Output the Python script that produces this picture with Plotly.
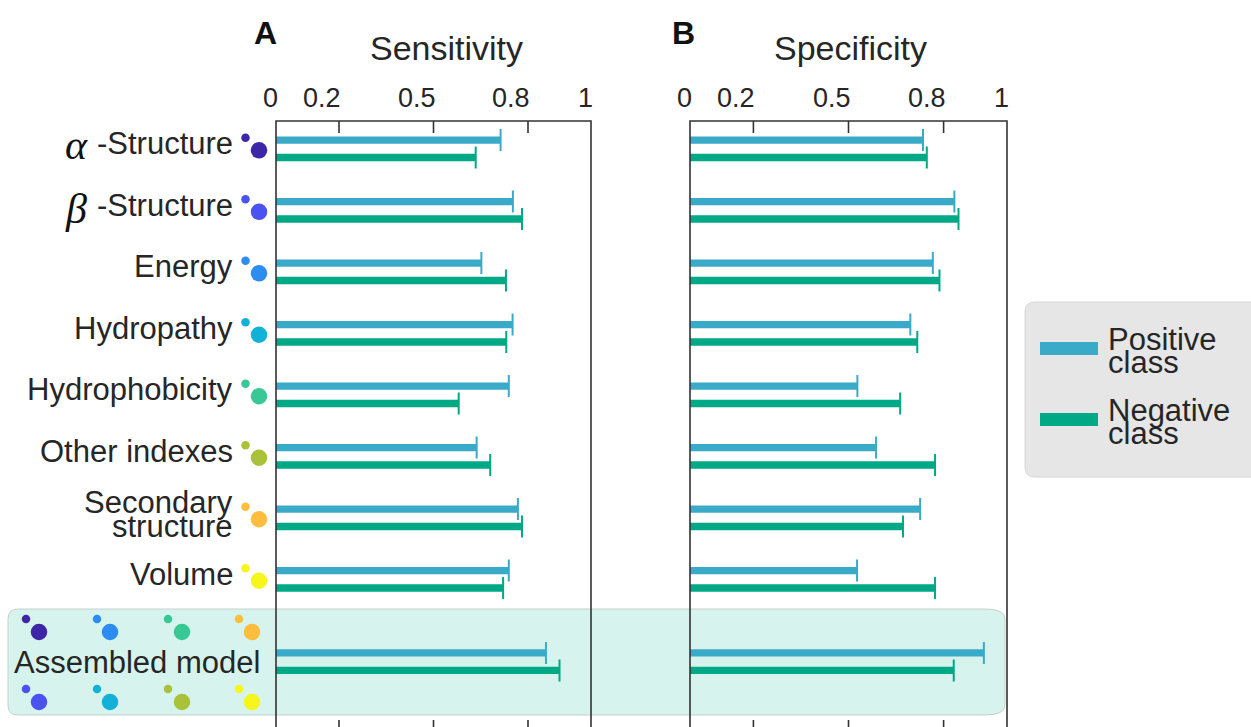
import plotly.graph_objects as go

# ---- data -------------------------------------------------------------
FEATURES = ["α -Structure", "β -Structure", "Energy", "Hydropathy",
            "Hydrophobicity", "Other indexes", "Secondary structure",
            "Volume", "Assembled model"]
SENS_POS = [0.713, 0.752, 0.652, 0.751, 0.739, 0.637, 0.768, 0.739, 0.857]
SENS_NEG = [0.634, 0.781, 0.730, 0.731, 0.580, 0.680, 0.781, 0.721, 0.900]
SPEC_POS = [0.735, 0.834, 0.766, 0.695, 0.528, 0.587, 0.726, 0.527, 0.927]
SPEC_NEG = [0.747, 0.847, 0.787, 0.717, 0.663, 0.773, 0.672, 0.773, 0.832]
TICK_VALS = [0, 0.2, 0.5, 0.8, 1]
TICK_TEXT = ["0", "0.2", "0.5", "0.8", "1"]
FEATURE_COLORS = ["#3e26a8", "#4a52f2", "#2d8cf0", "#12b2d8",
                  "#38c896", "#a9c23a", "#fdbe3d", "#f6f51c"]
CLASS_NAMES = ["Positive class", "Negative class"]
CLASS_COLORS = ["#3aaac9", "#00a985"]

# ---- geometry ---------------------------------------------------------
W, H, TOP = 1251, 727, 121
ROW_POS = list(range(8)) + [8.34]          # assembled row sits a bit lower
Y_TOP, Y_BOT = -0.452, 9.402                # y-axis range (reversed)
BAR_OFF, BAR_W = 0.142, 0.119
DOM_A = (276, 591)
DOM_B = (690, 1007)
FONT = "Liberation Sans, Arial, sans-serif"
TXT = "#262626"
FRAME = "#333333"


def px(x):
    return x / W


def py(y):
    return (H - y) / (H - TOP)


def row_px(v):
    return TOP + (v - Y_TOP) / (Y_BOT - Y_TOP) * (H - TOP)


fig = go.Figure()

panels = [("x", SENS_POS, SENS_NEG), ("x2", SPEC_POS, SPEC_NEG)]
for xa, pos_vals, neg_vals in panels:
    for name, vals, col, sgn in [(CLASS_NAMES[0], pos_vals, CLASS_COLORS[0], -1),
                                 (CLASS_NAMES[1], neg_vals, CLASS_COLORS[1], 1)]:
        fig.add_trace(go.Bar(
            x=vals, y=[p + sgn * BAR_OFF for p in ROW_POS], orientation="h",
            width=BAR_W, name=name, showlegend=False, xaxis=xa, yaxis="y",
            marker=dict(color=col, line=dict(width=0)),
            error_x=dict(type="data", array=[0] * len(vals), visible=True,
                         width=11, thickness=2, color=col),
            hoverinfo="x",
        ))

shapes = []
annotations = []

# assembled-model band (rounded ends)
bl, br, bt, bb = 8, 1005, 609, 715
band = (f"M {px(bl+10)},{py(bt)} L {px(br-20)},{py(bt)} "
        f"Q {px(br)},{py(bt)} {px(br)},{py(bt+10)} L {px(br)},{py(bb-10)} "
        f"Q {px(br)},{py(bb)} {px(br-20)},{py(bb)} L {px(bl+10)},{py(bb)} "
        f"Q {px(bl)},{py(bb)} {px(bl)},{py(bb-10)} L {px(bl)},{py(bt+10)} "
        f"Q {px(bl)},{py(bt)} {px(bl+10)},{py(bt)} Z")
shapes.append(dict(type="path", path=band, xref="paper", yref="paper",
                   fillcolor="#d7f3ed", line=dict(color="#c6cfcd", width=1),
                   layer="below"))

# panel frames, ticks, tick labels, titles
for xa, (l, r), title, tx, letter, lx in [("x", DOM_A, "Sensitivity", 446, "A", 265),
                                          ("x2", DOM_B, "Specificity", 850, "B", 683)]:
    shapes.append(dict(type="path", xref="paper", yref="paper",
                       path=f"M {px(l)},{py(735)} L {px(l)},{py(TOP)} "
                            f"L {px(r)},{py(TOP)} L {px(r)},{py(735)}",
                       line=dict(color=FRAME, width=1.6), layer="above"))
    for tv, tt in zip(TICK_VALS, TICK_TEXT):
        if 0 < tv < 1:
            shapes.append(dict(type="line", xref=xa, yref="paper", x0=tv, x1=tv,
                               y0=py(TOP), y1=py(TOP + 12),
                               line=dict(color=FRAME, width=1.6)))
            shapes.append(dict(type="line", xref=xa, yref="paper", x0=tv, x1=tv,
                               y0=py(720), y1=py(735),
                               line=dict(color=FRAME, width=1.6)))
        annotations.append(dict(text=tt, xref=xa, yref="paper", x=tv, y=py(98),
                                xanchor="right", yanchor="middle", xshift=4,
                                showarrow=False, font=dict(size=27, color=TXT, family=FONT)))
    annotations.append(dict(text=title, xref="paper", yref="paper", x=px(tx), y=py(48),
                            xanchor="center", yanchor="middle", showarrow=False,
                            font=dict(size=34, color=TXT, family=FONT)))
    annotations.append(dict(text=f"<b>{letter}</b>", xref="paper", yref="paper",
                            x=px(lx), y=py(33), xanchor="center", yanchor="middle",
                            showarrow=False, font=dict(size=32, color="#111", family=FONT)))

# row labels and colour dots
for i, feat in enumerate(FEATURES[:8]):
    yc = row_px(ROW_POS[i])
    if feat[0] in "αβ":
        greek, rest = feat.split(" ", 1)
        annotations.append(dict(text=rest, xref="paper", yref="paper", x=px(235), y=py(yc - 5),
                                xanchor="right", yanchor="middle", showarrow=False,
                                font=dict(size=31, color=TXT, family=FONT)))
        gy = yc - 4 if greek == "α" else yc - 1
        annotations.append(dict(text=greek, xref="paper", yref="paper", x=px(76), y=py(gy),
                                xanchor="center", yanchor="middle", showarrow=False,
                                font=dict(size=42, color="#111",
                                          family="Liberation Serif, serif", style="italic")))
    elif " " in feat and feat.startswith("Secondary"):
        for k, word in enumerate(feat.split(" ")):
            annotations.append(dict(text=word, xref="paper", yref="paper", x=px(235),
                                    y=py(yc - 15 + 24 * k), xanchor="right", yanchor="middle",
                                    showarrow=False, font=dict(size=31, color=TXT, family=FONT)))
    else:
        annotations.append(dict(text=feat, xref="paper", yref="paper", x=px(235), y=py(yc - 5),
                                xanchor="right", yanchor="middle", showarrow=False,
                                font=dict(size=31, color=TXT, family=FONT)))
    for cx, cy, d in [(245.5, yc - 11, 8.5), (259, yc + 1.5, 16.5)]:
        shapes.append(dict(type="circle", xref="paper", yref="paper",
                           x0=px(cx - d / 2), x1=px(cx + d / 2),
                           y0=py(cy + d / 2), y1=py(cy - d / 2),
                           fillcolor=FEATURE_COLORS[i], line=dict(width=0)))

# assembled model label with the eight feature colours
yc = row_px(ROW_POS[8])
annotations.append(dict(text=FEATURES[8], xref="paper", yref="paper", x=px(137), y=py(yc + 1),
                        xanchor="center", yanchor="middle", showarrow=False,
                        font=dict(size=31, color=TXT, family=FONT)))
pair_x = [(26, 39), (97, 110), (168, 182), (239, 252)]
for r, (sy, by) in enumerate([(619, 632), (689, 702)]):
    for k, (sx, bx) in enumerate(pair_x):
        col = FEATURE_COLORS[[0, 2, 4, 6][k] + r]
        for cx, cy, d in [(sx, sy, 8.5), (bx, by, 16.5)]:
            shapes.append(dict(type="circle", xref="paper", yref="paper",
                               x0=px(cx - d / 2), x1=px(cx + d / 2),
                               y0=py(cy + d / 2), y1=py(cy - d / 2),
                               fillcolor=col, line=dict(width=0)))

# legend box
ll, lr, lt, lb, rad = 1025, 1262, 302, 477, 10
legend_box = (f"M {px(ll+rad)},{py(lt)} L {px(lr)},{py(lt)} L {px(lr)},{py(lb)} "
              f"L {px(ll+rad)},{py(lb)} Q {px(ll)},{py(lb)} {px(ll)},{py(lb-rad)} "
              f"L {px(ll)},{py(lt+rad)} Q {px(ll)},{py(lt)} {px(ll+rad)},{py(lt)} Z")
shapes.append(dict(type="path", path=legend_box, xref="paper", yref="paper",
                   fillcolor="#e6e6e6", line=dict(color="#d6d6d6", width=1), layer="below"))
for k, (name, col) in enumerate(zip(CLASS_NAMES, CLASS_COLORS)):
    sy = 348.5 + 71 * k
    shapes.append(dict(type="rect", xref="paper", yref="paper",
                       x0=px(1040), x1=px(1098), y0=py(sy + 6.5), y1=py(sy - 6.5),
                       fillcolor=col, line=dict(width=0)))
    w1, w2 = name.split(" ")
    for j, word in enumerate([w1, w2]):
        annotations.append(dict(text=word, xref="paper", yref="paper", x=px(1106),
                                y=py(339 + 71 * k + 23 * j), xanchor="left", yanchor="middle",
                                showarrow=False, font=dict(size=31, color=TXT, family=FONT)))

axis_common = dict(range=[0, 1], showgrid=False, zeroline=False, showticklabels=False,
                   ticks="", showline=False, fixedrange=True)
fig.update_layout(
    width=W, height=H,
    margin=dict(l=0, r=0, t=TOP, b=0, autoexpand=False),
    paper_bgcolor="white", plot_bgcolor="rgba(0,0,0,0)",
    barmode="overlay", showlegend=False,
    xaxis=dict(domain=[px(DOM_A[0]), px(DOM_A[1])], anchor="y", **axis_common),
    xaxis2=dict(domain=[px(DOM_B[0]), px(DOM_B[1])], anchor="y", **axis_common),
    yaxis=dict(range=[Y_BOT, Y_TOP], domain=[0, 1], visible=False, fixedrange=True),
    shapes=shapes, annotations=annotations,
)

fig.write_html("out.html", config={"displayModeBar": False})
